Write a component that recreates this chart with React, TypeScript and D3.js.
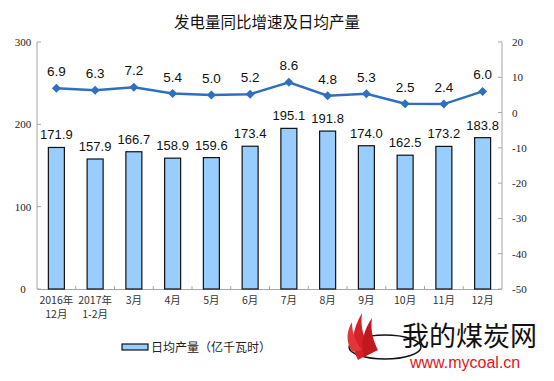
import React from "react";
import * as d3 from "d3";

const categories = ["2016年\n12月", "2017年\n1-2月", "3月", "4月", "5月", "6月", "7月", "8月", "9月", "10月", "11月", "12月"];
const dailyOutput = [171.9, 157.9, 166.7, 158.9, 159.6, 173.4, 195.1, 191.8, 174.0, 162.5, 173.2, 183.8];
const growthRate = [6.9, 6.3, 7.2, 5.4, 5.0, 5.2, 8.6, 4.8, 5.3, 2.5, 2.4, 6.0];
const leftTicks = [0, 100, 200, 300];
const rightTicks = [-50, -40, -30, -20, -10, 0, 10, 20];
const title = "发电量同比增速及日均产量";
const legendLabel = "日均产量（亿千瓦时）";

const W = 554, H = 381;
const L = 37, R = 502, T = 42, B = 289;

export default function App() {
  const band = d3.scaleBand().domain(categories).range([L, R]);
  const yL = d3.scaleLinear().domain([0, 300]).range([B, T]);
  const yR = d3.scaleLinear().domain([-50, 20]).range([B, T]);
  const cx = (c: string) => (band(c) as number) + band.bandwidth() / 2;
  const line = d3.line<number>().x((_, i) => cx(categories[i])).y((d) => yR(d));
  const cjk = "'Noto Sans CJK SC', sans-serif";
  const serif = "'Liberation Serif', 'DejaVu Serif', serif";
  const arial = "'Liberation Sans', Arial, sans-serif";
  const axisColor = "#a6a6a6";
  const lineColor = "#2e6fc0";
  const bw = 16;
  return (
    <svg width={W} height={H} style={{ display: "block", position: "absolute", left: 0, top: 0 }}>
      <rect width={W} height={H} fill="#fff" />
      <text x={267} y={28} textAnchor="middle" fontFamily={cjk} fontSize={15.5} fill="#111">{title}</text>
      {/* axes */}
      <line x1={L} x2={L} y1={T} y2={B} stroke={axisColor} />
      <line x1={R} x2={R} y1={T} y2={B} stroke={axisColor} />
      <line x1={L} x2={R} y1={B + 0.5} y2={B + 0.5} stroke={axisColor} />
      {leftTicks.map((t) => (
        <g key={"l" + t}>
          <line x1={L} x2={L + 4} y1={yL(t)} y2={yL(t)} stroke={axisColor} />
          <text x={23} y={yL(t) + 4} textAnchor="middle" fontFamily={serif} fontSize={11} fill="#222">{t}</text>
        </g>
      ))}
      {rightTicks.map((t) => (
        <g key={"r" + t}>
          <line x1={R - 4} x2={R} y1={yR(t)} y2={yR(t)} stroke={axisColor} />
          <text x={512} y={yR(t) + 4} textAnchor="start" fontFamily={serif} fontSize={11} fill="#222">{t}</text>
        </g>
      ))}
      {categories.map((c, i) => i > 0 ? (
        <line key={"bt" + i} x1={band(c) as number} x2={band(c) as number} y1={B} y2={B - 3} stroke={axisColor} />
      ) : null)}
      {/* bars */}
      {dailyOutput.map((v, i) => (
        <g key={"b" + i}>
          <rect x={cx(categories[i]) - bw / 2} y={yL(v)} width={bw} height={B - yL(v)} fill="#99ccff" stroke="#111" strokeWidth={1.2} />
          <text x={cx(categories[i])} y={yL(v) - 8} textAnchor="middle" fontFamily={arial} fontSize={13} fill="#111">{v.toFixed(1)}</text>
        </g>
      ))}
      {/* line */}
      <path d={line(growthRate) || ""} fill="none" stroke={lineColor} strokeWidth={2.5} />
      {growthRate.map((v, i) => {
        const px = cx(categories[i]), py = yR(v);
        return (
          <g key={"p" + i}>
            <path d={`M${px},${py - 4.5}L${px + 4.5},${py}L${px},${py + 4.5}L${px - 4.5},${py}Z`} fill={lineColor} />
            <text x={px} y={py - 12} textAnchor="middle" fontFamily={arial} fontSize={13.5} fill="#111">{v.toFixed(1)}</text>
          </g>
        );
      })}
      {/* category labels */}
      {categories.map((c, i) => (
        <text key={"c" + i} x={cx(c)} y={304} textAnchor="middle" fontFamily={cjk} fontSize={10.5} fill="#333">
          {c.split("\n").map((s, j) => (
            <tspan key={j} x={cx(c)} dy={j === 0 ? 0 : 14}>{s}</tspan>
          ))}
        </text>
      ))}
      {/* legend */}
      <rect x={122} y={344} width={26} height={6} fill="#99ccff" stroke="#111" strokeWidth={1.2} />
      <text x={151} y={351.5} fontFamily={cjk} fontSize={12} fill="#222">{legendLabel}</text>
      {/* watermark */}
      <g>
        <ellipse cx={385} cy={347} rx={36} ry={12} fill="none" stroke="#111" strokeWidth={1.5} />
        <path d="M358,360 C350,345 352,330 362,313 C360,328 364,340 372,352 Z" fill="#d42027" />
        <path d="M364,357 C360,342 364,330 372,318 C370,332 374,342 378,350 Z" fill="#c0181e" />
        <path d="M352,352 C346,342 346,332 352,322 C352,334 356,342 362,350 Z" fill="#e0353a" />
        <text x={402} y={346} fontFamily={cjk} fontSize={27} fill="#111">我的煤炭网</text>
        <text x={410} y={367.5} fontFamily={arial} fontSize={16} fill="#e2151b">www.mycoal.cn</text>
      </g>
    </svg>
  );
}
